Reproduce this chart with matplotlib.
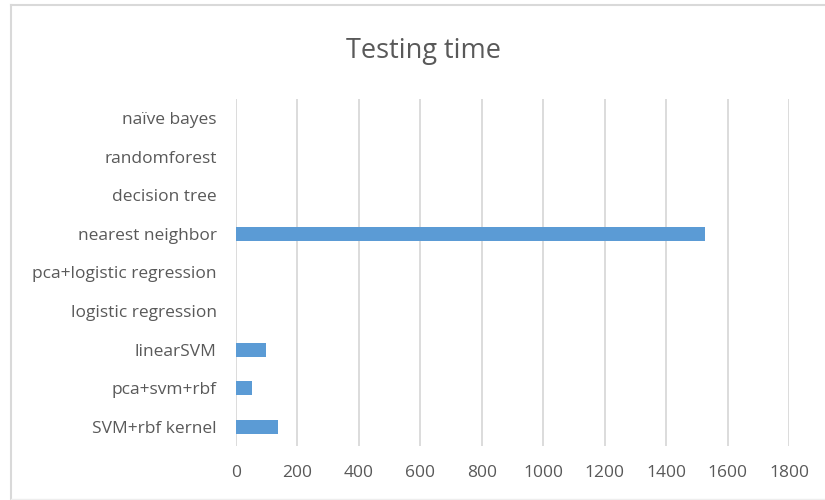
import matplotlib.pyplot as plt
from matplotlib.lines import Line2D

models = ["SVM+rbf kernel", "pca+svm+rbf", "linearSVM", "logistic regression",
          "pca+logistic regression", "nearest neighbor", "decision tree",
          "randomforest", "naïve bayes"]
test_time = [138, 51, 97, 0, 0, 1525, 0, 0, 0]
ticks = [0, 200, 400, 600, 800, 1000, 1200, 1400, 1600, 1800]

grey = "#595959"
line_grey = "#d9d9d9"
blue = "#5b9bd5"

plt.rcParams['font.family'] = ['Open Sans', 'DejaVu Sans']

fig = plt.figure(figsize=(8.25, 5), dpi=100)
ax = fig.add_axes([236/825, 1 - 446/500, (789 - 236)/825, (446 - 99)/500])

pos = range(len(models))
ax.barh(pos, test_time, height=0.36, color=blue, zorder=3)
ax.set_yticks(list(pos))
ax.set_yticklabels(models)
ax.set_ylim(-0.5, len(models) - 0.5)
ax.set_xlim(0, 1800)
ax.set_xticks(ticks)
ax.xaxis.grid(True, color=line_grey, lw=1.3)
ax.set_axisbelow(True)
for s in ax.spines.values():
    s.set_visible(False)
ax.tick_params(axis='both', length=0, colors=grey, labelsize=12.5)
ax.tick_params(axis='x', pad=14)
ax.tick_params(axis='y', pad=14)

fig.text(0.513, 0.898, "Testing time", ha='center', va='center', fontsize=19.5, color=grey)

# chart frame
fig.add_artist(Line2D([10.5/825, 10.5/825], [1 - 4.5/500, 1 - 499/500], color=line_grey, lw=1.5))
fig.add_artist(Line2D([10.5/825, 1], [1 - 4.5/500, 1 - 4.5/500], color=line_grey, lw=1.5))
fig.add_artist(Line2D([10.5/825, 1], [1 - 499/500, 1 - 499/500], color="#eeeeee", lw=1))

plt.savefig("out.png", dpi=100)
